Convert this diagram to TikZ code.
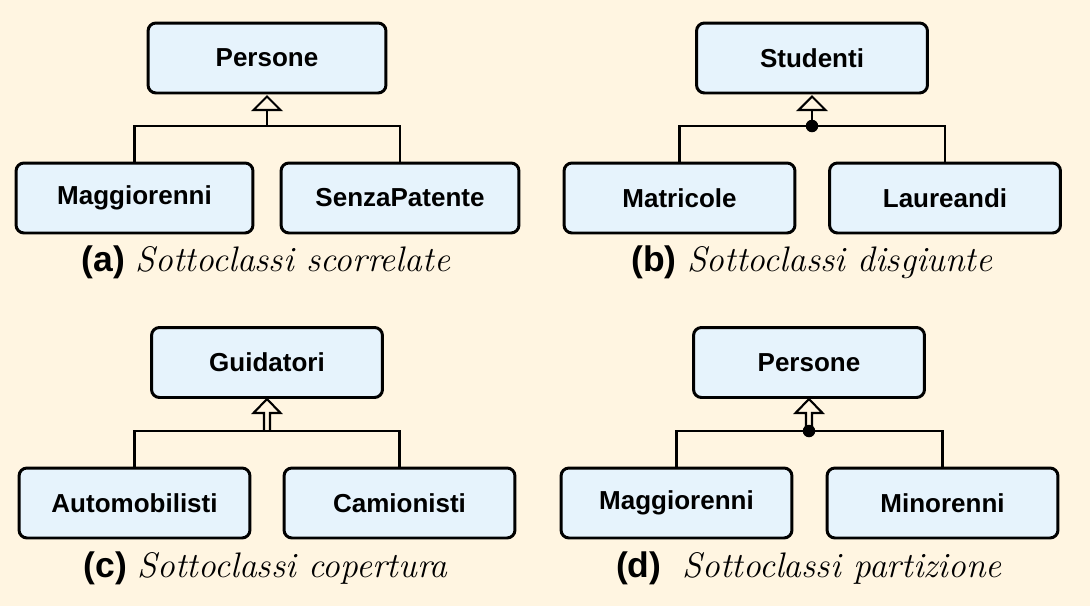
\documentclass[tikz,border=0pt]{standalone}
\usepackage{fontspec}
\newfontfamily\helv{Liberation Sans}
\definecolor{sfondo}{HTML}{FFF5E1}
\definecolor{azzurro}{HTML}{E6F3FC}

\begin{document}
\begin{tikzpicture}[x=0.02cm,y=-0.02cm]
                \tikzstyle{classe}=[draw=black, line width=1.7pt, fill=azzurro, rounded corners=0.16cm, minimum width=4.62cm, minimum height=1.4cm, inner sep=0pt, font=\helv\bfseries\fontsize{14.8}{17}\selectfont]
                \tikzstyle{linea}=[line width=1.2pt]
                \tikzstyle{punta}=[linea, fill=sfondo]
                \tikzstyle{pallino}=[circle, fill=black, inner sep=0pt, minimum size=0.25cm]
                \tikzstyle{didascalia}=[anchor=base, font=\fontsize{20.2}{24}\selectfont]
                \fill [sfondo] (0,0) rectangle (1090,606);
                % (a)
                \node [classe, minimum width=4.76cm] (pa) at (267,58) {Persone};
                \node [classe, minimum width=4.74cm] (ma) at (134.5,198) {Maggiorenni};
                \node [classe, minimum width=4.76cm] (sa) at (400,198) {SenzaPatente};
                \coordinate (ja) at (267,126);
                \draw [linea] (ma.north) |- (ja) -| (sa.north);
                \draw [linea] (ja) -- ++(0,-16);
                \draw [punta] (ja) ++(-13.5,-16) -- ++(13.5,-13.5) -- ++(13.5,13.5) -- cycle;
                \node [didascalia] (ca) at (266,271) {{\helv\bfseries (a)} \textit{Sottoclassi scorrelate}};
                % (b)
                \node [classe] (sb) at (812,58) {Studenti};
                \node [classe] (mb) at (679.5,198) {Matricole};
                \node [classe] (lb) at (945,198) {Laureandi};
                \coordinate (jb) at (812,126);
                \draw [linea] (mb.north) |- (jb) -| (lb.north);
                \draw [linea] (jb) -- ++(0,-16);
                \draw [punta] (jb) ++(-13.5,-16) -- ++(13.5,-13.5) -- ++(13.5,13.5) -- cycle;
                \node [pallino] (db) at (jb) {};
                \node [didascalia] (cb) at (812,271) {{\helv\bfseries (b)} \textit{Sottoclassi disgiunte}};
                % (c)
                \node [classe] (gc) at (267,362.5) {Guidatori};
                \node [classe] (ac) at (134.5,503) {Automobilisti};
                \node [classe] (kc) at (399.5,503) {Camionisti};
                \coordinate (jc) at (267,431);
                \draw [punta] (jc) ++(-3,0) -- ++(0,-18) -- ++(-10.5,0) -- ++(13.5,-14) -- ++(13.5,14) -- ++(-10.5,0) -- ++(0,18);
                \draw [linea] (ac.north) |- (jc) -| (kc.north);
                \node [didascalia] (cc) at (266,577) {{\helv\bfseries (c)} \textit{Sottoclassi copertura}};
                % (d)
                \node [classe] (pd) at (809,362.5) {Persone};
                \node [classe] (md) at (676.5,503) {Maggiorenni};
                \node [classe] (nd) at (942.5,503) {Minorenni};
                \coordinate (jd) at (809,431);
                \draw [punta] (jd) ++(-3,0) -- ++(0,-18) -- ++(-10.5,0) -- ++(13.5,-14) -- ++(13.5,14) -- ++(-10.5,0) -- ++(0,18);
                \draw [linea] (md.north) |- (jd) -| (nd.north);
                \node [pallino] (dd) at (jd) {};
                \node [didascalia] (cd) at (809,577) {{\helv\bfseries (d)}\ \ \textit{Sottoclassi partizione}};
\end{tikzpicture}
\end{document}
